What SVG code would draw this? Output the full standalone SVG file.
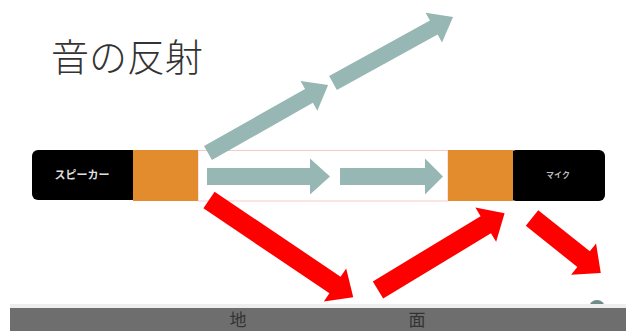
<svg xmlns="http://www.w3.org/2000/svg" width="626" height="331" viewBox="0 0 626 331">
  <style>
    .teal { fill: #97b7b4; }
    .red { fill: #ff0000; }
    .box { fill: #000000; }
    .orange { fill: #e38c2e; }
    .cjk { font-family: "Noto Sans CJK JP", "Noto Sans", sans-serif; }
  </style>
  <rect width="626" height="331" fill="#ffffff"/>
  <text id="title" class="cjk" x="51" y="71" font-size="38" fill="#333333" font-weight="300">音の反射</text>

  <g id="path-frame">
    <rect x="198" y="150.5" width="250" height="50.5" fill="none" stroke="#f5c9c9" stroke-width="1"/>
  </g>

  <g id="speaker">
    <rect class="box" x="32" y="150" width="106" height="50" rx="6"/>
    <rect class="orange" x="133" y="150" width="65" height="51"/>
    <text class="cjk" x="82" y="179" font-size="11" font-weight="bold" fill="#dddddd" text-anchor="middle">スピーカー</text>
  </g>

  <g id="mic">
    <rect class="box" x="510" y="150" width="95" height="51" rx="6"/>
    <rect class="orange" x="448" y="150" width="65" height="51"/>
    <text class="cjk" x="558" y="178" font-size="8" font-weight="bold" fill="#bbbbbb" text-anchor="middle">マイク</text>
  </g>

  <circle id="marker-dot" cx="597" cy="308" r="8" fill="#6f8b88"/>

  <g id="ground">
    <rect x="10" y="304" width="616" height="4" fill="#eeeeee"/>
    <rect x="10" y="308" width="616" height="23" fill="#6e6e6e"/>
    <text class="cjk" x="238" y="326" font-size="17" fill="#333333" text-anchor="middle">地</text>
    <text class="cjk" x="417" y="326" font-size="17" fill="#333333" text-anchor="middle">面</text>
  </g>

  <g id="connectors">
    <path class="teal" transform="translate(208,153) rotate(-29.5)" d="M0,-8 L116,-8 L116,-17 L138,0 L116,17 L116,8 L0,8 Z"/>
    <path class="teal" transform="translate(333,83) rotate(-28.8)" d="M0,-8 L115,-8 L115,-17 L137,0 L115,17 L115,8 L0,8 Z"/>
    <path class="teal" transform="translate(207,176.5)" d="M0,-8.5 L103,-8.5 L103,-18 L123,0 L103,18 L103,8.5 L0,8.5 Z"/>
    <path class="teal" transform="translate(340,176.5)" d="M0,-8.5 L85,-8.5 L85,-18 L103,0 L85,18 L85,8.5 L0,8.5 Z"/>
    <path class="red" transform="translate(209,200) rotate(34)" d="M0,-10 L152,-10 L152,-20 L174,0 L152,20 L152,10 L0,10 Z"/>
    <path class="red" transform="translate(378,290) rotate(-31.2)" d="M0,-10 L126,-10 L126,-20 L148,0 L126,20 L126,10 L0,10 Z"/>
    <path class="red" transform="translate(532,218) rotate(38.6)" d="M0,-10 L66,-10 L66,-20 L88,0 L66,20 L66,10 L0,10 Z"/>
  </g>
</svg>
